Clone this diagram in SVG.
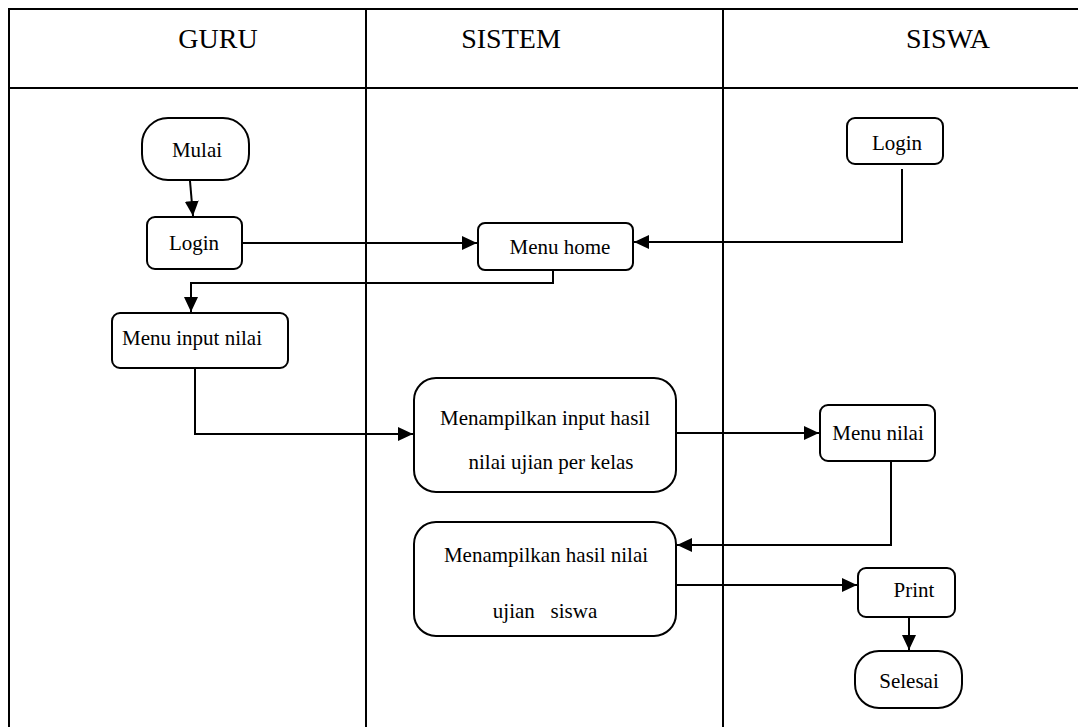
<svg xmlns="http://www.w3.org/2000/svg" width="1078" height="727" viewBox="0 0 1078 727">
<style>
.frame{stroke:#000;stroke-width:2;fill:none}
.node{fill:#fff;stroke:#000;stroke-width:2}
.conn{fill:none;stroke:#000;stroke-width:2}
.hdr{font-family:"Liberation Serif",serif;font-size:28px;fill:#000;text-anchor:middle}
.t{font-family:"Liberation Serif",serif;font-size:21px;fill:#000;text-anchor:middle}
.ts{font-family:"Liberation Serif",serif;font-size:21px;fill:#000;text-anchor:start}
</style>
<defs>
<marker id="ah" markerWidth="15" markerHeight="14" refX="15" refY="7" orient="auto" markerUnits="userSpaceOnUse">
<path d="M0,0 L15,7 L0,14 Z" fill="#000"/>
</marker>
</defs>
<rect width="1078" height="727" fill="#fff"/>
<g id="frame">
<line class="frame" x1="9" y1="9" x2="1078" y2="9"/>
<line class="frame" x1="9" y1="88" x2="1078" y2="88"/>
<line class="frame" x1="9" y1="8" x2="9" y2="727"/>
<line class="frame" x1="366" y1="8" x2="366" y2="727"/>
<line class="frame" x1="723" y1="8" x2="723" y2="727"/>
<text class="hdr" x="218" y="48">GURU</text>
<text class="hdr" x="511" y="48">SISTEM</text>
<text class="hdr" x="948" y="48">SISWA</text>
</g>
<g id="connectors">
<path class="conn" d="M190,181 L193,216" marker-end="url(#ah)"/>
<path class="conn" d="M243,243 L477,243" marker-end="url(#ah)"/>
<path class="conn" d="M902,169 L902,242 L634,242" marker-end="url(#ah)"/>
<path class="conn" d="M553,270 L553,283 L191,283 L191,312" marker-end="url(#ah)"/>
<path class="conn" d="M195,368 L195,434 L413,434" marker-end="url(#ah)"/>
<path class="conn" d="M677,433 L819,433" marker-end="url(#ah)"/>
<path class="conn" d="M891,461 L891,545 L677,545" marker-end="url(#ah)"/>
<path class="conn" d="M677,585 L857,585" marker-end="url(#ah)"/>
<path class="conn" d="M909,617 L909,650" marker-end="url(#ah)"/>
</g>
<g id="mulai">
<rect class="node" x="142" y="118" width="107" height="62" rx="26" ry="26"/>
<text class="t" x="197" y="157">Mulai</text>
</g>
<g id="login-guru">
<rect class="node" x="147" y="217" width="95" height="52" rx="8" ry="8"/>
<text class="t" x="194" y="250">Login</text>
</g>
<g id="menu-home">
<rect class="node" x="478" y="223" width="155" height="47" rx="7" ry="7"/>
<text class="t" x="560" y="254">Menu home</text>
</g>
<g id="login-siswa">
<rect class="node" x="847" y="118" width="96" height="46" rx="8" ry="8"/>
<text class="t" x="897" y="150">Login</text>
</g>
<g id="menu-input-nilai">
<rect class="node" x="112" y="313" width="176" height="55" rx="8" ry="8"/>
<text class="ts" x="122" y="345">Menu input nilai</text>
</g>
<g id="menampilkan-input">
<rect class="node" x="414" y="378" width="262" height="114" rx="22" ry="22"/>
<text class="t" x="545" y="425">Menampilkan input hasil</text>
<text class="t" x="551" y="469">nilai ujian per kelas</text>
</g>
<g id="menu-nilai">
<rect class="node" x="820" y="405" width="115" height="56" rx="8" ry="8"/>
<text class="t" x="878" y="440">Menu nilai</text>
</g>
<g id="menampilkan-hasil">
<rect class="node" x="414" y="522" width="262" height="114" rx="22" ry="22"/>
<text class="t" x="546" y="562">Menampilkan hasil nilai</text>
<text class="t" x="545" y="618" xml:space="preserve">ujian   siswa</text>
</g>
<g id="print">
<rect class="node" x="858" y="568" width="97" height="49" rx="8" ry="8"/>
<text class="t" x="914" y="597">Print</text>
</g>
<g id="selesai">
<rect class="node" x="855" y="651" width="107" height="57" rx="24" ry="24"/>
<text class="t" x="909" y="688">Selesai</text>
</g>
</svg>
